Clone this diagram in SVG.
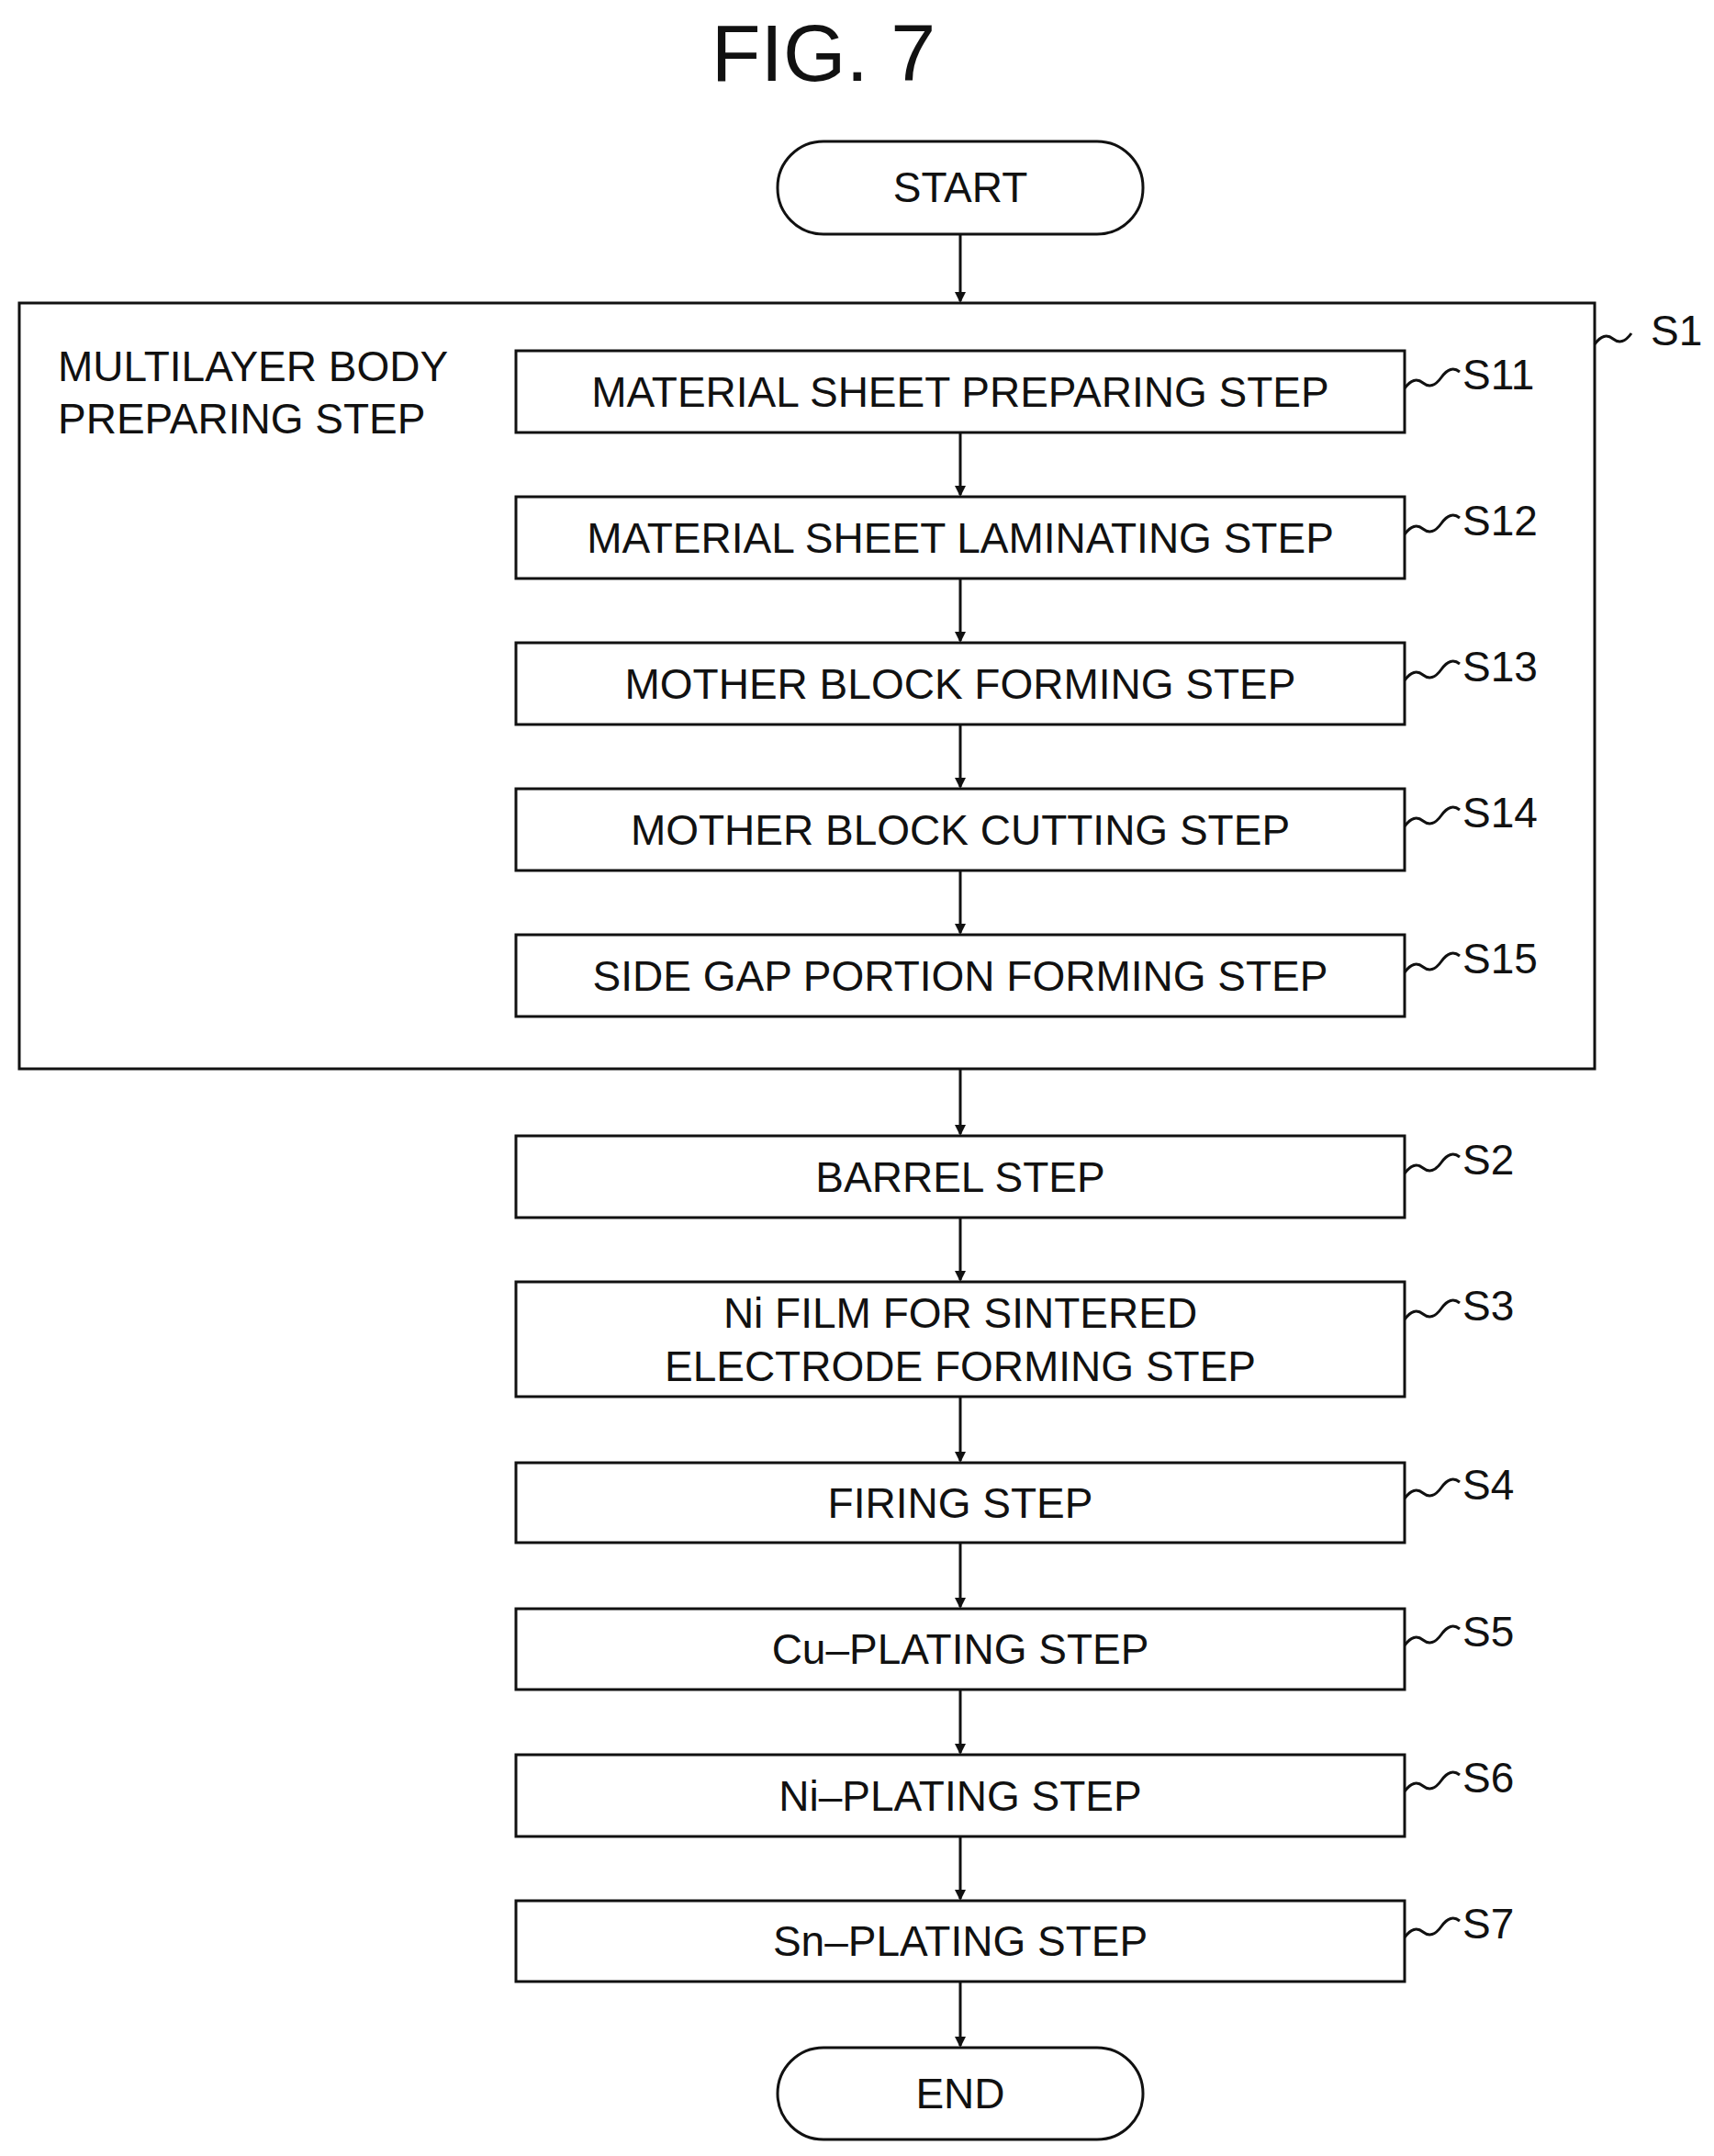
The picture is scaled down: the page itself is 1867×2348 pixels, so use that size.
<svg xmlns="http://www.w3.org/2000/svg" width="1867" height="2348" viewBox="0 0 1867 2348">
<style>
text{font-family:"Liberation Sans",Arial,sans-serif;fill:#111}
.t{font-size:46px;text-anchor:middle;dominant-baseline:central}
.l{font-size:46px;dominant-baseline:central}
.b{fill:#fff;stroke:#111;stroke-width:3}
.c{stroke:#111;stroke-width:3;fill:none}
</style>
<defs><marker id="a" markerWidth="12" markerHeight="12" refX="10" refY="6" orient="auto" markerUnits="userSpaceOnUse"><path d="M0,0L12,6L0,12Z" fill="#111"/></marker></defs>
<text x="897" y="57" font-size="88" text-anchor="middle" dominant-baseline="central">FIG. 7</text>
<rect class="b" x="21" y="330" width="1716" height="834"/>
<text class="l" x="63" y="399">MULTILAYER BODY</text>
<text class="l" x="63" y="456">PREPARING STEP</text>
<g id="start"><rect class="b" x="847" y="154" width="398" height="101" rx="50"/><text class="t" x="1046" y="204">START</text></g>
<g id="s11"><rect class="b" x="562" y="382" width="968" height="89"/><text class="t" x="1046" y="427">MATERIAL SHEET PREPARING STEP</text></g>
<g id="s12"><rect class="b" x="562" y="541" width="968" height="89"/><text class="t" x="1046" y="586">MATERIAL SHEET LAMINATING STEP</text></g>
<g id="s13"><rect class="b" x="562" y="700" width="968" height="89"/><text class="t" x="1046" y="745">MOTHER BLOCK FORMING STEP</text></g>
<g id="s14"><rect class="b" x="562" y="859" width="968" height="89"/><text class="t" x="1046" y="904">MOTHER BLOCK CUTTING STEP</text></g>
<g id="s15"><rect class="b" x="562" y="1018" width="968" height="89"/><text class="t" x="1046" y="1063">SIDE GAP PORTION FORMING STEP</text></g>
<g id="s2"><rect class="b" x="562" y="1237" width="968" height="89"/><text class="t" x="1046" y="1282">BARREL STEP</text></g>
<g id="s3"><rect class="b" x="562" y="1396" width="968" height="125"/><text class="t" x="1046" y="1430">Ni FILM FOR SINTERED</text><text class="t" x="1046" y="1488">ELECTRODE FORMING STEP</text></g>
<g id="s4"><rect class="b" x="562" y="1593" width="968" height="87"/><text class="t" x="1046" y="1637">FIRING STEP</text></g>
<g id="s5"><rect class="b" x="562" y="1752" width="968" height="88"/><text class="t" x="1046" y="1796">Cu–PLATING STEP</text></g>
<g id="s6"><rect class="b" x="562" y="1911" width="968" height="89"/><text class="t" x="1046" y="1956">Ni–PLATING STEP</text></g>
<g id="s7"><rect class="b" x="562" y="2070" width="968" height="88"/><text class="t" x="1046" y="2114">Sn–PLATING STEP</text></g>
<g id="end"><rect class="b" x="847" y="2230" width="398" height="100" rx="50"/><text class="t" x="1046" y="2280">END</text></g>
<g id="labels">
<path class="c" d="M1737,375 q10,-14 20,-6 t20,-6"/><text class="l" x="1798" y="360">S1</text>
<path class="c" d="M1530,423 q10,-14 20,-6 t20,-6 t20,-6"/><text class="l" x="1593" y="408">S11</text>
<path class="c" d="M1530,582 q10,-14 20,-6 t20,-6 t20,-6"/><text class="l" x="1593" y="567">S12</text>
<path class="c" d="M1530,741 q10,-14 20,-6 t20,-6 t20,-6"/><text class="l" x="1593" y="726">S13</text>
<path class="c" d="M1530,900 q10,-14 20,-6 t20,-6 t20,-6"/><text class="l" x="1593" y="885">S14</text>
<path class="c" d="M1530,1059 q10,-14 20,-6 t20,-6 t20,-6"/><text class="l" x="1593" y="1044">S15</text>
<path class="c" d="M1530,1278 q10,-14 20,-6 t20,-6 t20,-6"/><text class="l" x="1593" y="1263">S2</text>
<path class="c" d="M1530,1437 q10,-14 20,-6 t20,-6 t20,-6"/><text class="l" x="1593" y="1422">S3</text>
<path class="c" d="M1530,1632 q10,-14 20,-6 t20,-6 t20,-6"/><text class="l" x="1593" y="1617">S4</text>
<path class="c" d="M1530,1792 q10,-14 20,-6 t20,-6 t20,-6"/><text class="l" x="1593" y="1777">S5</text>
<path class="c" d="M1530,1951 q10,-14 20,-6 t20,-6 t20,-6"/><text class="l" x="1593" y="1936">S6</text>
<path class="c" d="M1530,2110 q10,-14 20,-6 t20,-6 t20,-6"/><text class="l" x="1593" y="2095">S7</text>
</g>
<g id="connectors" class="c" marker-end="url(#a)">
<line x1="1046" y1="255" x2="1046" y2="328"/>
<line x1="1046" y1="471" x2="1046" y2="539"/>
<line x1="1046" y1="630" x2="1046" y2="698"/>
<line x1="1046" y1="789" x2="1046" y2="857"/>
<line x1="1046" y1="948" x2="1046" y2="1016"/>
<line x1="1046" y1="1164" x2="1046" y2="1235"/>
<line x1="1046" y1="1326" x2="1046" y2="1394"/>
<line x1="1046" y1="1521" x2="1046" y2="1591"/>
<line x1="1046" y1="1680" x2="1046" y2="1750"/>
<line x1="1046" y1="1840" x2="1046" y2="1909"/>
<line x1="1046" y1="2000" x2="1046" y2="2068"/>
<line x1="1046" y1="2158" x2="1046" y2="2228"/>
</g>
</svg>
